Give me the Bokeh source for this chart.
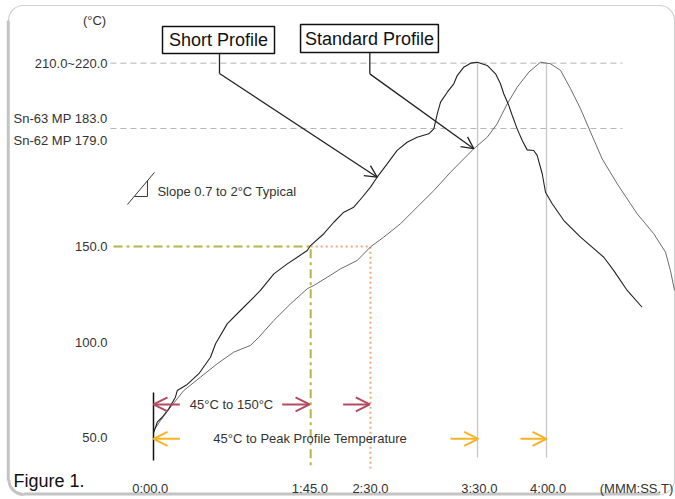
import math
from bokeh.plotting import figure
from bokeh.models import Range1d, Label, Arrow, OpenHead
from bokeh.core.properties import value
from bokeh.embed import file_html
from bokeh.resources import INLINE

FONT = "Liberation Sans"

# Schematic axes of the original figure: x = time position (s), y = temperature position (°C)
short_time = [0.2, 2.3, 5.3, 9.3, 13.4, 14.5, 20.6, 27.7, 34.8, 37.9, 45.0, 53.1, 61.3, 65.3, 73.5,
              81.7, 87.8, 93.9, 95.9, 104.0, 110.1, 116.2, 122.3, 127.5, 132.5, 136.6, 142.7, 148.8,
              154.9, 161.0, 168.1, 171.2, 173.3, 175.3, 179.4, 183.4, 185.5, 189.5, 193.6, 197.7,
              203.8, 208.9, 211.9, 213.9, 217.0, 219.1, 222.1, 225.2, 228.2, 232.2, 234.3, 237.4,
              239.4, 243.5, 250.6, 260.8, 275.0, 281.1, 289.3, 298.4]
short_temp = [52.8, 58.0, 60.6, 65.0, 71.1, 74.6, 77.8, 83.4, 92.0, 99.1, 109.5, 116.5, 123.5, 127.0,
              135.7, 140.9, 144.4, 147.9, 150.5, 156.7, 162.7, 168.0, 170.6, 175.8, 181.1, 186.3,
              193.3, 200.3, 204.6, 207.2, 209.0, 211.6, 219.5, 225.6, 230.8, 235.2, 239.5, 243.9,
              246.0, 246.5, 244.8, 240.4, 235.2, 230.0, 223.8, 218.6, 211.6, 205.5, 200.6, 200.3,
              197.7, 188.1, 178.4, 172.4, 163.6, 154.9, 144.4, 137.4, 127.0, 118.2]

std_time = [0.2, 4.3, 10.4, 18.5, 28.7, 38.9, 49.0, 59.2, 64.3, 73.5, 83.7, 93.9, 97.9, 106.1, 114.2,
            124.4, 132.8, 140.6, 150.8, 161.0, 171.2, 181.4, 195.6, 203.8, 209.9, 216.0, 222.1, 229.2,
            236.3, 242.4, 248.6, 254.7, 260.8, 266.9, 274.0, 283.2, 295.4, 305.5, 312.7, 315.7, 318.2]
std_temp = [53.7, 58.9, 65.9, 74.6, 81.6, 88.6, 94.7, 98.2, 102.5, 111.3, 120.0, 127.9, 129.6, 133.9,
            138.3, 142.7, 150.0, 154.9, 161.9, 170.6, 179.3, 188.9, 201.2, 207.2, 214.3, 224.7, 233.4,
            241.3, 246.5, 245.7, 242.2, 232.6, 222.1, 209.9, 195.9, 182.8, 167.1, 156.7, 147.0, 137.4,
            127.0]

time_tick_pos = [-2.0, 95.5, 132.5, 199.0, 241.0, 295.0]
time_tick_labels = ["0:00.0", "1:45.0", "2:30.0", "3:30.0", "4:00.0", "(MMM:SS.T)"]
temp_tick_pos = [246.0, 216.8, 205.5, 150.0, 100.0, 50.0]
temp_tick_labels = ["210.0~220.0", "Sn-63 MP 183.0", "Sn-62 MP 179.0", "150.0", "100.0", "50.0"]

peak_level = 246.0
mp_level = 211.8
soak_temp = 150
short_soak_time = 96
std_soak_time = 132.5
short_peak_time = 197.9
std_peak_time = 240

X0, X1 = -93.44, 318.79
Y0, Y1 = 17.54, 278.81
TICK_LABEL_X = -28.1
TICK_LABEL_Y = 23.3

p = figure(width=675, height=499, output_backend="svg", toolbar_location=None,
           x_range=Range1d(X0, X1), y_range=Range1d(Y0, Y1))
p.min_border = 0
p.min_border_left = 0
p.min_border_right = 0
p.min_border_top = 0
p.min_border_bottom = 0
p.outline_line_color = None
p.xaxis.visible = False
p.yaxis.visible = False
p.xgrid.visible = False
p.ygrid.visible = False
p.background_fill_color = "white"
p.border_fill_color = "white"

# rounded frame of the figure, with its darker left/bottom edge
p.quad(left=[-88.55], right=[318.2], bottom=[20.16], top=[276.2], border_radius=15,
       fill_color=None, line_color="#d0d0d0", line_width=1.2)
p.line([-88.7, -88.7], [268.3, 27.5], line_color="#c4c4c4", line_width=3)
p.line([-79.4, 309.0], [20.4, 20.4], line_color="#c4c4c4", line_width=3)
p.arc(x=[-79.4], y=[27.8], radius=14.5, radius_units="screen", start_angle=math.pi,
      end_angle=1.5 * math.pi, line_color="#c4c4c4", line_width=3)

# tick labels
p.text(x=[TICK_LABEL_X] * len(temp_tick_pos), y=temp_tick_pos, text=temp_tick_labels,
       text_font=value(FONT), text_font_size="13px", text_color="#333333",
       text_align="right", text_baseline="middle")
p.text(x=time_tick_pos, y=[TICK_LABEL_Y] * len(time_tick_pos), text=time_tick_labels,
       text_font=value(FONT), text_font_size="13px", text_color="#333333",
       text_align="center", text_baseline="middle")

# reference levels
p.segment(x0=[-26.3, -26.3], y0=[peak_level, mp_level], x1=[286.4, 286.4], y1=[peak_level, mp_level],
          line_color="#b4b4b4", line_width=1, line_dash="6 4")
p.segment(x0=[short_peak_time, std_peak_time], y0=[peak_level, peak_level],
          x1=[short_peak_time, std_peak_time], y1=[39.5, 39.5],
          line_color="#c6c6c6", line_width=1.3)
p.line([-24.4, short_soak_time, short_soak_time], [soak_temp, soak_temp, 33.8],
       line_color="#b4b44a", line_width=2, line_dash="9 4 3 4")
p.line([short_soak_time, std_soak_time, std_soak_time], [soak_temp, soak_temp, 33.8],
       line_color="#f2a67c", line_width=2, line_dash="2 3")
p.segment(x0=[0], y0=[73.6], x1=[0], y1=[38.0], line_color="#111111", line_width=1.5)

# profiles
p.line(std_time, std_temp, line_color="#5a5a5a", line_width=0.9)
p.line(short_time, short_temp, line_color="#222222", line_width=1.1)

# slope symbol
p.line([-15.9, 0.6], [172.0, 188.8], line_color="#333333", line_width=1)
p.line([-11.6, -3.7, -3.7], [176.2, 176.2, 184.6], line_color="#333333", line_width=1)
p.add_layout(Label(x=2.4, y=178.8, text="Slope 0.7 to 2°C Typical", text_font=FONT,
                   text_font_size="13px", text_color="#333333", text_baseline="middle"))

# profile name boxes
p.quad(left=[5.5, 89.8], right=[73.9, 174.0], bottom=[251.1, 251.6], top=[265.2, 266.2],
       fill_color="white", line_color="#111111", line_width=1.5)
p.add_layout(Label(x=39.7, y=258.2, text="Short Profile", text_font=FONT, text_font_size="18px",
                   text_color="#111111", text_align="center", text_baseline="middle"))
p.add_layout(Label(x=131.9, y=258.9, text="Standard Profile", text_font=FONT, text_font_size="18px",
                   text_color="#111111", text_align="center", text_baseline="middle"))
p.line([40.3, 40.3], [251.1, 240.6], line_color="#222222", line_width=1.3)
p.line([132.1, 132.1], [251.6, 240.4], line_color="#222222", line_width=1.3)
for xs, ys, xe, ye in ((40.3, 240.6, 136.6, 186.3), (132.1, 240.4, 195.6, 201.2)):
    p.add_layout(Arrow(end=OpenHead(size=12, line_color="#222222", line_width=1.3),
                       x_start=xs, y_start=ys, x_end=xe, y_end=ye,
                       line_color="#222222", line_width=1.3))

# duration arrows
MAROON = "#b24a62"
GOLD = "#f6b324"
for xs, xe, yy, col in ((16.1, 0, 67.3, MAROON), (78.6, 95.3, 67.3, MAROON), (115.8, 132.1, 67.3, MAROON),
                        (16.1, 0, 49.3, GOLD), (181.4, 198.3, 49.3, GOLD), (224.1, 240.0, 49.3, GOLD)):
    p.add_layout(Arrow(end=OpenHead(size=14, line_color=col, line_width=2),
                       x_start=xs, y_start=yy, x_end=xe, y_end=yy, line_color=col, line_width=2))
p.add_layout(Label(x=22.2, y=67.3, text="45°C to 150°C", text_font=FONT, text_font_size="13px",
                   text_color="#333333", text_baseline="middle"))
p.add_layout(Label(x=36.5, y=49.3, text="45°C to Peak Profile Temperature", text_font=FONT,
                   text_font_size="13px", text_color="#333333", text_baseline="middle"))

# unit and caption
p.add_layout(Label(x=-36.0, y=268.3, text="(°C)", text_font=FONT, text_font_size="13px",
                   text_color="#333333", text_align="center", text_baseline="middle"))
p.add_layout(Label(x=-85.5, y=27.2, text="Figure 1.", text_font=FONT, text_font_size="18px",
                   text_color="#111111", text_baseline="middle"))

open("out.html", "w").write(file_html(p, INLINE))
